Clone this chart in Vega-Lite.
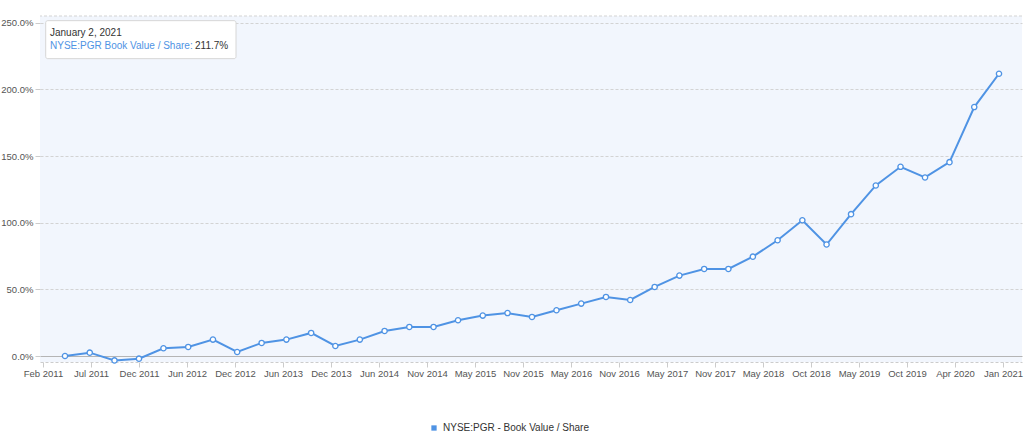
{
  "$schema": "https://vega.github.io/schema/vega-lite/v6.json",
  "width": 982,
  "height": 346,
  "autosize": {"type": "none"},
  "padding": {"left": 40, "top": 16, "right": 2, "bottom": 75},
  "background": "white",
  "config": {
    "font": "Liberation Sans",
    "view": {"stroke": null, "fill": "#f2f6fd"}
  },
  "data": {
    "values": [
      {"date": "2011-07-02", "value": 0.0, "series": "NYSE:PGR - Book Value / Share"},
      {"date": "2011-10-02", "value": 2.5, "series": "NYSE:PGR - Book Value / Share"},
      {"date": "2012-01-02", "value": -3.3, "series": "NYSE:PGR - Book Value / Share"},
      {"date": "2012-04-02", "value": -2.0, "series": "NYSE:PGR - Book Value / Share"},
      {"date": "2012-07-02", "value": 5.8, "series": "NYSE:PGR - Book Value / Share"},
      {"date": "2012-10-02", "value": 6.8, "series": "NYSE:PGR - Book Value / Share"},
      {"date": "2013-01-02", "value": 12.3, "series": "NYSE:PGR - Book Value / Share"},
      {"date": "2013-04-02", "value": 3.0, "series": "NYSE:PGR - Book Value / Share"},
      {"date": "2013-07-02", "value": 9.8, "series": "NYSE:PGR - Book Value / Share"},
      {"date": "2013-10-02", "value": 12.3, "series": "NYSE:PGR - Book Value / Share"},
      {"date": "2014-01-02", "value": 17.3, "series": "NYSE:PGR - Book Value / Share"},
      {"date": "2014-04-02", "value": 7.5, "series": "NYSE:PGR - Book Value / Share"},
      {"date": "2014-07-02", "value": 12.3, "series": "NYSE:PGR - Book Value / Share"},
      {"date": "2014-10-02", "value": 18.8, "series": "NYSE:PGR - Book Value / Share"},
      {"date": "2015-01-02", "value": 21.8, "series": "NYSE:PGR - Book Value / Share"},
      {"date": "2015-04-02", "value": 21.8, "series": "NYSE:PGR - Book Value / Share"},
      {"date": "2015-07-02", "value": 26.8, "series": "NYSE:PGR - Book Value / Share"},
      {"date": "2015-10-02", "value": 30.3, "series": "NYSE:PGR - Book Value / Share"},
      {"date": "2016-01-02", "value": 32.2, "series": "NYSE:PGR - Book Value / Share"},
      {"date": "2016-04-02", "value": 29.3, "series": "NYSE:PGR - Book Value / Share"},
      {"date": "2016-07-02", "value": 34.3, "series": "NYSE:PGR - Book Value / Share"},
      {"date": "2016-10-02", "value": 39.3, "series": "NYSE:PGR - Book Value / Share"},
      {"date": "2017-01-02", "value": 44.3, "series": "NYSE:PGR - Book Value / Share"},
      {"date": "2017-04-02", "value": 42.0, "series": "NYSE:PGR - Book Value / Share"},
      {"date": "2017-07-02", "value": 51.8, "series": "NYSE:PGR - Book Value / Share"},
      {"date": "2017-10-02", "value": 60.3, "series": "NYSE:PGR - Book Value / Share"},
      {"date": "2018-01-02", "value": 65.3, "series": "NYSE:PGR - Book Value / Share"},
      {"date": "2018-04-02", "value": 65.3, "series": "NYSE:PGR - Book Value / Share"},
      {"date": "2018-07-02", "value": 74.5, "series": "NYSE:PGR - Book Value / Share"},
      {"date": "2018-10-02", "value": 86.8, "series": "NYSE:PGR - Book Value / Share"},
      {"date": "2019-01-02", "value": 101.8, "series": "NYSE:PGR - Book Value / Share"},
      {"date": "2019-04-02", "value": 83.6, "series": "NYSE:PGR - Book Value / Share"},
      {"date": "2019-07-02", "value": 106.4, "series": "NYSE:PGR - Book Value / Share"},
      {"date": "2019-10-02", "value": 127.9, "series": "NYSE:PGR - Book Value / Share"},
      {"date": "2020-01-02", "value": 141.9, "series": "NYSE:PGR - Book Value / Share"},
      {"date": "2020-04-02", "value": 133.9, "series": "NYSE:PGR - Book Value / Share"},
      {"date": "2020-07-02", "value": 145.4, "series": "NYSE:PGR - Book Value / Share"},
      {"date": "2020-10-02", "value": 186.7, "series": "NYSE:PGR - Book Value / Share"},
      {"date": "2021-01-02", "value": 211.7, "series": "NYSE:PGR - Book Value / Share"}
    ]
  },
  "layer": [
    {
      "mark": {"type": "line", "strokeWidth": 2, "interpolate": "linear"},
      "encoding": {
        "x": {
          "field": "date",
          "type": "temporal",
          "scale": {"domain": [1301535648000, 1616932800000], "nice": false},
          "axis": {
            "title": null,
            "grid": false,
            "values": [1302499008000, 1317915532800, 1333332057600, 1348748582400, 1364165107200, 1379581632000, 1394998156800, 1410414681600, 1425831206400, 1441247731200, 1456664256000, 1472080780800, 1487497305600, 1502913830400, 1518330355200, 1533746880000, 1549163404800, 1564579929600, 1579996454400, 1595412979200, 1610829504000],
            "labelExpr": "['Feb 2011','Jul 2011','Dec 2011','Jun 2012','Dec 2012','Jun 2013','Dec 2013','Jun 2014','Nov 2014','May 2015','Nov 2015','May 2016','Nov 2016','May 2017','Nov 2017','May 2018','Oct 2018','May 2019','Oct 2019','Apr 2020','Jan 2021'][round(datum.index * 20)]",
            "labelOverlap": false,
            "labelFlush": false,
            "labelFontSize": 9.5,
            "labelColor": "#555555",
            "labelPadding": 1,
            "domainColor": "#cccccc",
            "domainDash": [3, 2],
            "tickColor": "#cccccc",
            "tickSize": 5
          }
        },
        "y": {
          "field": "value",
          "type": "quantitative",
          "scale": {"domain": [-4.5, 255], "nice": false, "zero": false},
          "axis": {
            "title": null,
            "values": [0, 50, 100, 150, 200, 250],
            "labelExpr": "format(datum.value, '.1f') + '%'",
            "labelFontSize": 9.5,
            "labelColor": "#555555",
            "labelPadding": 2,
            "domain": false,
            "tickSize": 5,
            "tickColor": "#cccccc",
            "gridColor": {"condition": {"test": "datum.value === 0", "value": "#b5b5b5"}, "value": "#d3d3d3"},
            "gridDash": {"condition": {"test": "datum.value === 0", "value": []}, "value": [3, 2]}
          }
        },
        "color": {
          "field": "series",
          "type": "nominal",
          "scale": {"range": ["#4f93e4"]},
          "legend": {
            "title": null,
            "orient": "none",
            "legendX": 389,
            "legendY": 407,
            "padding": 0,
            "symbolType": "square",
            "symbolSize": 28,
            "symbolFillColor": "#4f93e4",
            "symbolStrokeWidth": 0,
            "labelFontSize": 10,
            "labelColor": "#333333",
            "labelOffset": 4
          }
        }
      }
    },
    {
      "mark": {"type": "point", "filled": true, "fill": "white", "stroke": "#4f93e4", "strokeWidth": 1.3, "size": 28, "opacity": 1},
      "encoding": {
        "x": {"field": "date", "type": "temporal"},
        "y": {"field": "value", "type": "quantitative"}
      }
    },
    {
      "data": {"values": [{}]},
      "mark": {"type": "rule", "stroke": "#d3d3d3", "strokeDash": [3, 2], "strokeWidth": 1},
      "encoding": {
        "y": {"datum": 255, "type": "quantitative"}
      }
    },
    {
      "data": {"values": [{}]},
      "mark": {"type": "rect", "fill": "white", "stroke": "#d6d6d6", "strokeWidth": 1, "cornerRadius": 2},
      "encoding": {
        "x": {"datum": 1303366464000, "type": "temporal"},
        "x2": {"datum": 1364486688000},
        "y": {"datum": 251.5, "type": "quantitative"},
        "y2": {"datum": 223.0}
      }
    },
    {
      "data": {"values": [{}]},
      "mark": {"type": "text", "align": "left", "baseline": "middle", "fontSize": 10, "color": "#333333"},
      "encoding": {
        "x": {"datum": 1304747136000, "type": "temporal"},
        "y": {"datum": 242.5, "type": "quantitative"},
        "text": {"value": "January 2, 2021"}
      }
    },
    {
      "data": {"values": [{}]},
      "mark": {"type": "text", "align": "left", "baseline": "middle", "fontSize": 10, "color": "#4f93e4"},
      "encoding": {
        "x": {"datum": 1304747136000, "type": "temporal"},
        "y": {"datum": 232.2, "type": "quantitative"},
        "text": {"value": "NYSE:PGR Book Value / Share:"}
      }
    },
    {
      "data": {"values": [{}]},
      "mark": {"type": "text", "align": "left", "baseline": "middle", "fontSize": 10, "color": "#333333"},
      "encoding": {
        "x": {"datum": 1351318464000, "type": "temporal"},
        "y": {"datum": 232.2, "type": "quantitative"},
        "text": {"value": "211.7%"}
      }
    }
  ]
}
